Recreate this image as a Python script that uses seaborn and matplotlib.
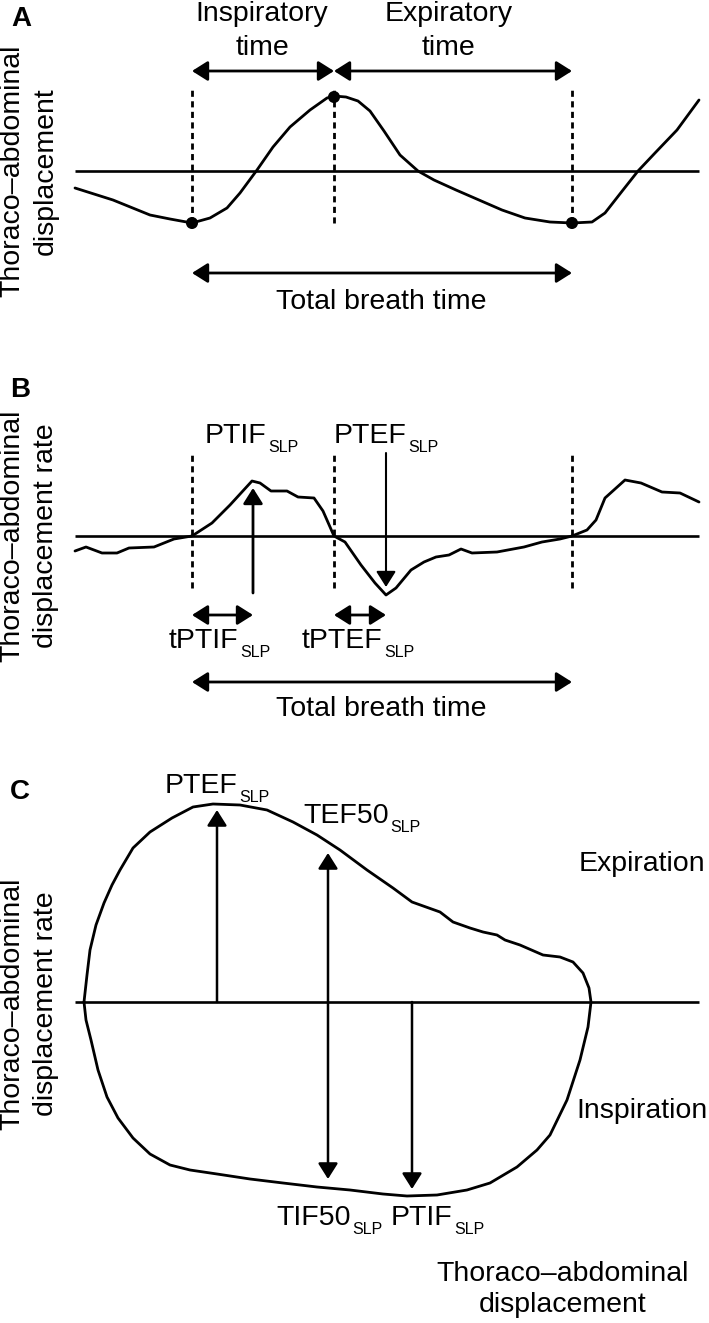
import matplotlib
matplotlib.use("Agg")
import matplotlib.pyplot as plt
import seaborn as sns

# ---- panel A: displacement trace (x in px, y relative to the zero line)
a_x = [75, 113, 150, 170, 192, 210, 227, 240, 257, 273, 290, 310, 327, 334, 346,
       358, 370, 384, 400, 418, 434, 456, 479, 502, 525, 550, 572, 592, 605, 623,
       638, 655, 677, 699]
a_y = [-17, -29, -44, -48, -52, -47, -37, -22, 1, 24, 44, 61, 73, 75, 74,
       70, 60, 40, 16, 0, -9, -19, -29, -39, -47, -51, -52, -51, -42, -19,
       0, 18, 41, 71]
a_dot_x = [192, 334, 572]
a_dot_y = [-52, 74, -52]

# ---- panel B: displacement rate trace
b_x = [75, 86, 102, 117, 129, 154, 174, 192, 212, 230, 252, 260, 271, 287, 298,
       314, 323, 334, 345, 361, 375, 386, 396, 411, 424, 436, 449, 461, 472, 497,
       524, 542, 560, 572, 587, 596, 605, 625, 641, 662, 680, 699]
b_y = [-15, -11, -17, -17, -12, -11, -3, 0, 13, 31, 55, 53, 45, 45, 39,
       38, 25, 0, -6, -29, -47, -59, -52, -34, -26, -21, -19, -13, -17, -16,
       -11, -6, -3, 0, 6, 16, 38, 56, 53, 44, 43, 34]

# ---- panel C: rate vs displacement loop
c_x = [84, 87, 90, 96, 104, 112, 120, 133, 150, 172, 193, 213, 240, 267, 293,
       317, 340, 367, 393, 412, 440, 453, 470, 483, 497, 505, 520, 543, 560, 573,
       583, 589, 591, 588, 580, 567, 550, 537, 517, 490, 467, 437, 407, 383, 350,
       317, 283, 250, 217, 190, 170, 150, 133, 118, 107, 98, 91, 86, 84]
c_y = [0, 27, 52, 77, 99, 117, 132, 154, 170, 184, 195, 198, 197, 192, 180,
       167, 152, 132, 114, 100, 90, 80, 74, 70, 67, 62, 57, 47, 45, 40,
       29, 14, 0, -25, -58, -98, -133, -148, -165, -181, -188, -193, -194, -192, -188,
       -185, -181, -177, -172, -168, -163, -152, -136, -116, -95, -68, -38, -18, 0]

# event times shared by A and B
breath_start = 192
breath_mid = 334
breath_end = 572
zero_from, zero_to = 75, 699

FS = 20.5
SUB_FS = 11.5
LW = 2.0
HEAD = "head_length=0.38,head_width=0.24"

sns.set_style("white")
plt.rcParams["font.family"] = ["Liberation Sans", "DejaVu Sans"]
plt.rcParams["text.color"] = "black"

fig = plt.figure(figsize=(7.09, 13.23), dpi=100)
H = 1323.0


def panel(top, bottom, zero):
    ax = fig.add_axes([0, 1 - bottom / H, 1, (bottom - top) / H])
    ax.set_xlim(0, 709)
    ax.set_ylim(zero - bottom, zero - top)
    ax.axis("off")
    ax.hlines(0, zero_from, zero_to, color="black", lw=1.9)
    return ax


def arrow(ax, x0, y0, x1, y1, both=False, lw=LW):
    style = ("<|-|>," if both else "-|>,") + HEAD
    ax.annotate("", xy=(x1, y1), xytext=(x0, y0),
                arrowprops=dict(arrowstyle=style, mutation_scale=25, color="black",
                                lw=lw, shrinkA=0, shrinkB=0))


def sub_label(ax, x, y, main, sub):
    t = ax.text(x, y, main, fontsize=FS, ha="left", va="baseline")
    ax.annotate(sub, xy=(1, 0), xycoords=t, xytext=(1, -2.5),
                textcoords="offset points", fontsize=SUB_FS, ha="left", va="baseline")


def ylabel(ax, lines, yc):
    ax.text(12, yc, lines[0], fontsize=FS, rotation=90, ha="center", va="center")
    ax.text(46, yc, lines[1], fontsize=FS, rotation=90, ha="center", va="center")


def dashed(ax, xs, y0, y1):
    ax.vlines(xs, y0, y1, color="black", lw=2.0, linestyles=(0, (2.2, 1.6)))


# ================= A
ax = panel(0, 330, 171)
sns.lineplot(x=a_x, y=a_y, ax=ax, sort=False, estimator=None, color="black", lw=LW)
sns.scatterplot(x=a_dot_x, y=a_dot_y, ax=ax, s=75, color="black", edgecolor="none", zorder=5)
dashed(ax, [breath_start, breath_mid, breath_end], -52, 83)
arrow(ax, breath_start, 100, breath_mid, 100, both=True)
arrow(ax, breath_mid, 100, breath_end, 100, both=True)
arrow(ax, breath_start, -102, breath_end, -102, both=True)
ax.text(21, 152, "A", fontsize=20, fontweight="bold", ha="center", va="center")
ylabel(ax, ["Thoraco\u2013abdominal", "displacement"], 0)
ax.text(262, 150, "Inspiratory", fontsize=FS, ha="center", va="baseline")
ax.text(262, 116, "time", fontsize=FS, ha="center", va="baseline")
ax.text(449, 150, "Expiratory", fontsize=FS, ha="center", va="baseline")
ax.text(449, 116, "time", fontsize=FS, ha="center", va="baseline")
ax.text(381, -138, "Total breath time", fontsize=FS, ha="center", va="baseline")

# ================= B
ax = panel(330, 720, 536)
sns.lineplot(x=b_x, y=b_y, ax=ax, sort=False, estimator=None, color="black", lw=LW)
dashed(ax, [breath_start, breath_mid, breath_end], -52, 83)
arrow(ax, 253, -57, 253, 48)
arrow(ax, 386, 83, 386, -51, lw=1.5)
arrow(ax, breath_start, -79, 253, -79, both=True)
arrow(ax, breath_mid, -79, 386, -79, both=True)
arrow(ax, breath_start, -146, breath_end, -146, both=True)
ax.text(20, 146, "B", fontsize=20, fontweight="bold", ha="center", va="center")
ylabel(ax, ["Thoraco\u2013abdominal", "displacement rate"], 0)
sub_label(ax, 205, 93, "PTIF", "SLP")
sub_label(ax, 334, 93, "PTEF", "SLP")
sub_label(ax, 169, -112, "tPTIF", "SLP")
sub_label(ax, 302, -112, "tPTEF", "SLP")
ax.text(381, -180, "Total breath time", fontsize=FS, ha="center", va="baseline")

# ================= C
ax = panel(720, 1323, 1002)
sns.lineplot(x=c_x, y=c_y, ax=ax, sort=False, estimator=None, color="black", lw=LW)
arrow(ax, 217, 0, 217, 192, lw=1.8)
arrow(ax, 328, -177, 328, 149, both=True, lw=1.8)
arrow(ax, 412, 0, 412, -187, lw=1.8)
ax.text(20, 210, "C", fontsize=20, fontweight="bold", ha="center", va="center")
ylabel(ax, ["Thoraco\u2013abdominal", "displacement rate"], -2)
sub_label(ax, 165, 209, "PTEF", "SLP")
sub_label(ax, 303, 179, "TEF50", "SLP")
sub_label(ax, 276, -223, "TIF50", "SLP")
sub_label(ax, 391, -223, "PTIF", "SLP")
ax.text(642, 131, "Expiration", fontsize=FS, ha="center", va="baseline")
ax.text(642, -116, "Inspiration", fontsize=FS, ha="center", va="baseline")
ax.text(563, -279, "Thoraco\u2013abdominal", fontsize=FS, ha="center", va="baseline")
ax.text(563, -310, "displacement", fontsize=FS, ha="center", va="baseline")

fig.savefig("out.png", dpi=100)
